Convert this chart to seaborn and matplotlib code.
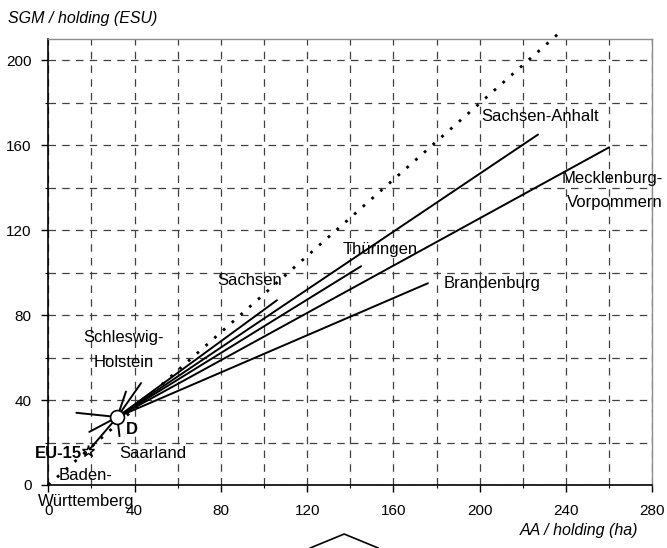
import numpy as np
import pandas as pd
import seaborn as sns
import matplotlib.pyplot as plt
from matplotlib.lines import Line2D

# data
center_x, center_y = 32, 32          # Germany (D)
states = ['Sachsen-Anhalt', 'Mecklenburg-Vorpommern', 'Thüringen', 'Brandenburg',
          'Sachsen', 'Schleswig-Holstein', 'West 1', 'West 2', 'West 3',
          'Saarland', 'EU-15']
end_x = [227, 260, 145, 176, 106, 43, 36, 13, 19, 33, 18.5]
end_y = [165, 159, 103, 95, 87, 48, 44, 34, 25, 23, 16]

trend_x = [0, 237]
trend_y = [0, 213]

xticks = [0, 40, 80, 120, 160, 200, 240, 280]
yticks = [0, 40, 80, 120, 160, 200]

sns.set_style('ticks')
plt.rcParams['font.family'] = ['Liberation Sans', 'DejaVu Sans']
plt.rcParams['text.color'] = 'black'
plt.rcParams['xtick.color'] = 'black'
plt.rcParams['ytick.color'] = 'black'
plt.rcParams['xtick.labelcolor'] = 'black'
plt.rcParams['ytick.labelcolor'] = 'black'

# long-form frame: one segment per state, from D to the state point
rows = []
for s, x, y in zip(states, end_x, end_y):
    rows.append({'state': s, 'x': center_x, 'y': center_y})
    rows.append({'state': s, 'x': x, 'y': y})
df = pd.DataFrame(rows)

fig = plt.figure(figsize=(6.67, 5.48), dpi=100)
ax = fig.add_axes([48.3 / 667, 63 / 548, 604 / 667, 446 / 548])

ax.plot(trend_x, trend_y, color='black', lw=2.0, ls=(0, (1, 3.2)),
        clip_on=False, zorder=3)

sns.lineplot(data=df, x='x', y='y', units='state', estimator=None, sort=False,
             color='black', lw=1.4, ax=ax, zorder=4)

ax.plot([center_x], [center_y], 'o', ms=10, mfc='white', mec='black', mew=1.2, zorder=6)
ax.plot([end_x[-1]], [end_y[-1]], '*', ms=9, mfc='white', mec='black', mew=1.0, zorder=6)

ax.set_xlim(0, 280)
ax.set_ylim(0, 210)
ax.set_xticks(xticks)
ax.set_yticks(yticks)
ax.set_xticks(range(0, 281, 20), minor=True)
ax.set_yticks(range(0, 211, 20), minor=True)
ax.tick_params(axis='both', which='major', labelsize=11, length=5, width=1, color='black')
ax.tick_params(axis='x', which='major', pad=9)
ax.tick_params(axis='y', which='major', pad=7)
ax.tick_params(axis='both', which='minor', length=2.5, width=0.8)
ax.set_xlabel('')
ax.set_ylabel('')

ax.grid(which='both', ls=(0, (6, 5)), color='0.25', lw=0.9)
ax.set_axisbelow(True)
for side in ['left', 'bottom']:
    ax.spines[side].set_color('black')
    ax.spines[side].set_linewidth(1.2)
for side in ['top', 'right']:
    ax.spines[side].set_color('0.55')
    ax.spines[side].set_linewidth(1.0)

fs = 12
ax.text(228, 173.7, 'Sachsen-Anhalt', fontsize=fs, ha='center', va='center')
ax.text(261.5, 144.5, 'Mecklenburg-', fontsize=fs, ha='center', va='center')
ax.text(262.5, 133, 'Vorpommern', fontsize=fs, ha='center', va='center')
ax.text(154, 111, 'Thüringen', fontsize=fs, ha='center', va='center')
ax.text(205.5, 94.7, 'Brandenburg', fontsize=fs, ha='center', va='center')
ax.text(93.5, 96.2, 'Sachsen', fontsize=fs, ha='center', va='center')
ax.text(35, 69.6, 'Schleswig-', fontsize=fs, ha='center', va='center')
ax.text(35, 57.6, 'Holstein', fontsize=fs, ha='center', va='center')
ax.text(38.8, 26.3, 'D', fontsize=fs, fontweight='bold', ha='center', va='center')
ax.text(4.5, 15, 'EU-15', fontsize=fs, fontweight='bold', ha='center', va='center')
ax.text(48.5, 14.9, 'Saarland', fontsize=fs, ha='center', va='center')
ax.text(17.5, 4.7, 'Baden-', fontsize=fs, ha='center', va='center')
ax.text(17.5, -8, 'Württemberg', fontsize=fs, ha='center', va='center')

fig.text(8 / 667, 1 - 18 / 548, 'SGM / holding (ESU)', fontsize=11.5,
         style='italic', ha='left', va='center')
fig.text(638 / 667, 1 - 530 / 548, 'AA / holding (ha)', fontsize=11.5,
         style='italic', ha='right', va='center')

# fragment of a shape below the chart
fig.add_artist(Line2D([0.465, 0.516, 0.567], [0, 0.0255, 0], color='black', lw=1.2))

fig.savefig('out.png', dpi=100)
